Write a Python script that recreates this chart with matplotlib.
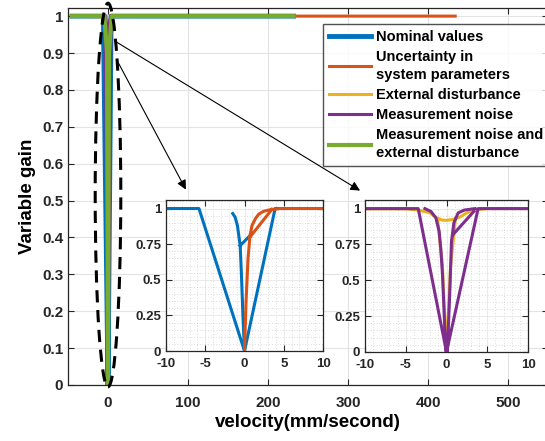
import numpy as np
import matplotlib
matplotlib.use("Agg")
import matplotlib.pyplot as plt
from matplotlib.patches import Ellipse
from matplotlib.ticker import MultipleLocator

plt.rcParams["font.family"] = ["Liberation Sans", "DejaVu Sans"]
plt.rcParams["font.weight"] = "bold"
plt.rcParams["axes.unicode_minus"] = False

nan = np.nan

# 速度-增益轨迹 (读图估计, nan 用来断开线段)
nominal_v = [-45, -5.8, 0, 3.9, 232, nan,
             -1.5, -1.2, -0.9, -0.55, -0.4, -0.2, 0, nan, -0.55, 0.7]
nominal_g = [1, 1, 0, 1, 1, nan,
             0.965, 0.94, 0.88, 0.74, 0.55, 0.25, 0, nan, 0.74, 0.81]

uncert_v = [0, 0.2, 0.45, 0.7, 0.95, 1.4, 1.8, 2.4, 3.1, 4.5, 434, nan, 0.7, 3.5]
uncert_g = [0, 0.35, 0.65, 0.81, 0.88, 0.93, 0.96, 0.98, 0.99, 1.0, 1.0, nan, 0.80, 0.995]

ext_v = [-45, -5, -3.5, -2, -1.2, -0.5, 0, 0.8, 1.6, 2.5, 3.3, 5, 232, nan,
         -1.1, -0.5, -0.1, 0, 0.1, 0.5, 1.1]
ext_g = [1, 0.998, 0.99, 0.97, 0.935, 0.92, 0.918, 0.925, 0.94, 0.97, 0.99, 1, 1, nan,
         0.93, 0.6, 0.1, 0, 0.1, 0.6, 0.93]

meas_v = [-45, -3.47, 0, 3.88, 232, nan,
          -2.65, -1.9, -1.3, -0.9, -0.7, -0.49, -0.2, -0.05, nan,
          0.1, 0.25, 0.41, 0.61, 0.9, 1.43, 2.2, 3.5, nan, 0.82, 3.35]
meas_g = [1, 1, 0, 1, 1, nan,
          1, 0.98, 0.935, 0.84, 0.72, 0.54, 0.15, 0, nan,
          0, 0.2, 0.43, 0.77, 0.9, 0.97, 0.99, 1, nan, 0.82, 0.98]

both_v = [-45, -4.5, -1.2, 0, 1.2, 4.5, 232]
both_g = [1, 1, 0.9, 0, 0.9, 1, 1]

labels = ["Nominal values", "Uncertainty in\nsystem parameters",
          "External disturbance", "Measurement noise",
          "Measurement noise and\nexternal disturbance"]
colors = ["#0072BD", "#D95319", "#EDB120", "#7E2F8E", "#77AC30"]

main_xticks = [0, 100, 200, 300, 400, 500]
main_yticks = [0, 0.1, 0.2, 0.3, 0.4, 0.5, 0.6, 0.7, 0.8, 0.9, 1]
inset_xticks = [-10, -5, 0, 5, 10]
inset_yticks = [0, 0.25, 0.5, 0.75, 1]

W, H = 545, 441
fig = plt.figure(figsize=(W / 100, H / 100), dpi=100)


def _style(ax, size, xpad):
    ax.tick_params(direction="in", top=True, right=True, labelsize=size,
                   colors="#262626", width=0.8, length=4)
    ax.tick_params(axis="x", pad=xpad)
    for s in ax.spines.values():
        s.set_color("#262626")
        s.set_linewidth(0.9)
    ax.set_axisbelow(True)


# 主图
ax = fig.add_axes([68 / W, 56 / H, 480 / W, 377 / H])
series = [(nominal_v, nominal_g, 3.5), (uncert_v, uncert_g, 2.2),
          (ext_v, ext_g, 2.2), (meas_v, meas_g, 2.2), (both_v, both_g, 3.0)]
for (v, g, lw), c, lab in zip(series, colors, labels):
    ax.plot(v, g, color=c, lw=lw, label=lab)
ax.set_xlim(-50, 550)
ax.set_ylim(0, 1.022)
ax.set_xticks(main_xticks)
ax.set_yticks(main_yticks)
ax.set_yticklabels([f"{t:g}" for t in main_yticks])
ax.grid(True, color="#e3e3e3", lw=0.8)
_style(ax, 11, 8)
ax.set_xlabel("velocity(mm/second)", fontsize=13.5, fontweight="bold", labelpad=3)
ax.set_ylabel("Variable gain", fontsize=13.5, fontweight="bold", labelpad=4)

ax.add_patch(Ellipse((0, 0.515), 32, 1.04, fill=False, ec="k", lw=2.2,
                     ls=(0, (4, 2.5)), clip_on=False, zorder=5))

leg = fig.legend(loc="upper left", bbox_to_anchor=(323 / W, 1 - 24 / H),
                 fontsize=10.5, frameon=True, fancybox=False, handlelength=2.9,
                 handletextpad=0.3, labelspacing=0.42, borderpad=0.4,
                 borderaxespad=0)
leg.get_frame().set_edgecolor("#262626")
leg.get_frame().set_linewidth(1.0)
for t in leg.get_texts():
    t.set_fontweight("bold")
    t.set_linespacing(1.35)

# 放大小图
in1 = fig.add_axes([166 / W, (H - 351) / H, 157 / W, 151 / H])
in2 = fig.add_axes([365 / W, (H - 352) / H, 163 / W, 152 / H])
for inset, idx in [(in1, [0, 1]), (in2, [2, 3])]:
    for i in idx:
        v, g, _ = series[i]
        inset.plot(v, g, color=colors[i], lw=2.2)
    inset.set_xlim(-10, 10)
    inset.set_ylim(0, 1.06)
    inset.set_xticks(inset_xticks)
    inset.set_yticks(inset_yticks)
    inset.set_yticklabels([f"{t:g}" for t in inset_yticks])
    inset.xaxis.set_minor_locator(MultipleLocator(1))
    inset.yaxis.set_minor_locator(MultipleLocator(0.05))
    inset.grid(True, which="major", color="#e6e6e6", lw=0.6)
    inset.grid(True, which="minor", color="#bdbdbd", lw=0.5, ls=(0, (1, 3)))
    inset.tick_params(which="minor", length=0)
    _style(inset, 9.5, 5)

# 箭头 (从椭圆指向两个小图)
arrow = dict(arrowstyle="-|>", color="k", lw=0.8, mutation_scale=14)
ax.annotate("", xy=(99, 0.523), xytext=(9.1, 0.889), arrowprops=arrow,
            annotation_clip=False)
ax.annotate("", xy=(318, 0.523), xytext=(6.6, 0.935), arrowprops=arrow,
            annotation_clip=False)

fig.savefig("out.png", dpi=100)
